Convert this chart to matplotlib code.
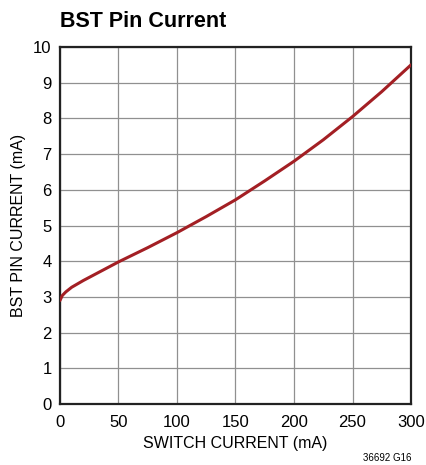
import matplotlib
matplotlib.use("Agg")
import matplotlib.pyplot as plt

# values
switch_ma = [0, 2, 5, 10, 20, 35, 50, 75, 100, 125, 150, 175, 200, 225, 250, 275, 300]
bst_ma = [2.9, 3.04, 3.14, 3.27, 3.46, 3.72, 3.98, 4.38, 4.8, 5.25, 5.72, 6.25, 6.8, 7.4, 8.05, 8.75, 9.5]

xticks = [0, 50, 100, 150, 200, 250, 300]
yticks = list(range(0, 11))

plt.rcParams['font.family'] = ['Liberation Sans', 'DejaVu Sans']

fig = plt.figure(figsize=(4.26, 4.65), dpi=100)
ax = fig.add_axes([0.1408, 0.1312, 0.824, 0.7677])

ax.plot(switch_ma, bst_ma, color='#a31f24', lw=2.2, solid_capstyle='round', zorder=3)

ax.set_xlim(0, 300)
ax.set_ylim(0, 10)
ax.set_xticks(xticks)
ax.set_yticks(yticks)
ax.grid(True, color='#909090', lw=0.9)
ax.tick_params(length=0, labelsize=12, pad=8)
ax.tick_params(axis='y', pad=6)
for s in ax.spines.values():
    s.set_linewidth(1.6)
    s.set_color('#222222')

ax.set_xlabel('SWITCH CURRENT (mA)', fontsize=11.5, labelpad=4)
ax.set_ylabel('BST PIN CURRENT (mA)', fontsize=11.5, labelpad=5)

fig.text(0.1408, 0.942, 'BST Pin Current', fontsize=15.5, fontweight='bold', ha='left', va='baseline')
fig.text(0.965, 0.008, '36692 G16', fontsize=7, ha='right', va='baseline')

fig.savefig('out.png', dpi=100)
